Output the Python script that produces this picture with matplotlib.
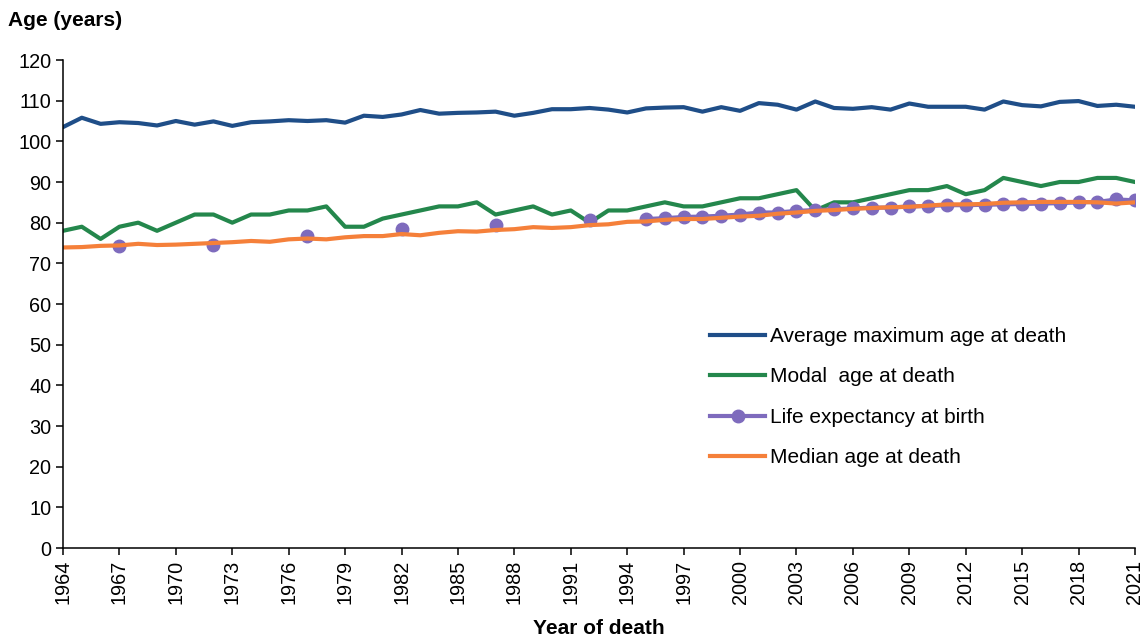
import numpy as np
import matplotlib
matplotlib.use("Agg")
import matplotlib.pyplot as plt

plt.rcParams['font.family'] = ['Liberation Sans', 'DejaVu Sans']

years = list(range(1964, 2022))

avg_max_age = [103.5, 105.8, 104.3, 104.7, 104.5, 103.9, 105.0, 104.1, 104.9, 103.8,
               104.7, 104.9, 105.2, 105.0, 105.2, 104.6, 106.3, 106.0, 106.6, 107.7,
               106.8, 107.0, 107.1, 107.3, 106.3, 107.0, 107.9, 107.9, 108.2, 107.8,
               107.1, 108.1, 108.3, 108.4, 107.3, 108.4, 107.5, 109.4, 109.0, 107.8,
               109.8, 108.2, 108.0, 108.4, 107.8, 109.3, 108.5, 108.5, 108.5, 107.8,
               109.8, 108.9, 108.6, 109.7, 109.9, 108.7, 109.0, 108.5]

modal_age = [78, 79, 76, 79, 80, 78, 80, 82, 82, 80,
             82, 82, 83, 83, 84, 79, 79, 81, 82, 83,
             84, 84, 85, 82, 83, 84, 82, 83, 80, 83,
             83, 84, 85, 84, 84, 85, 86, 86, 87, 88,
             83, 85, 85, 86, 87, 88, 88, 89, 87, 88,
             91, 90, 89, 90, 90, 91, 91, 90]

life_exp_years = [1967, 1972, 1977, 1982, 1987, 1992] + list(range(1995, 2022))
life_exp_values = [74.3, 74.5, 76.6, 78.4, 79.4, 80.7,
                   80.9, 81.1, 81.4, 81.5, 81.7, 82.0, 82.5, 82.5, 82.9, 83.1,
                   83.3, 83.5, 83.7, 83.7, 84.0, 84.1, 84.3, 84.3, 84.4, 84.5,
                   84.6, 84.7, 84.8, 85.0, 85.1, 85.7, 85.5]

median_age = [73.9, 74.0, 74.3, 74.4, 74.8, 74.5, 74.6, 74.8, 75.0, 75.2,
              75.5, 75.3, 75.9, 76.1, 75.9, 76.4, 76.7, 76.7, 77.2, 76.9,
              77.5, 77.9, 77.8, 78.2, 78.4, 78.9, 78.7, 78.9, 79.4, 79.6,
              80.2, 80.3, 80.7, 80.9, 80.9, 81.2, 81.5, 81.7, 82.2, 82.5,
              82.9, 83.1, 83.4, 83.6, 83.8, 83.9, 84.2, 84.5, 84.5, 84.6,
              84.9, 85.0, 85.1, 85.1, 85.1, 85.0, 84.7, 85.0]

labels = ["Average maximum age at death", "Modal  age at death",
          "Life expectancy at birth", "Median age at death"]

# full yearly series for life expectancy with gaps
le_map = dict(zip(life_exp_years, life_exp_values))
life_exp_full = [le_map.get(y, np.nan) for y in years]

fig = plt.figure(figsize=(11.4, 6.41), dpi=100)
ax = fig.add_axes([63 / 1140, 1 - 548 / 641, (1135 - 63) / 1140, (548 - 60) / 641])

ax.plot(years, avg_max_age, color='#1f4e88', lw=3.0, label=labels[0])
ax.plot(years, modal_age, color='#24874c', lw=3.0, label=labels[1])
ax.plot(years, life_exp_full, color='#7e6bbd', lw=3.0, marker='o', markersize=9,
        label=labels[2])
ax.plot(years, median_age, color='#f5803a', lw=3.0, label=labels[3])

ax.set_xlim(1964, 2021)
ax.set_ylim(0, 120)
ax.set_xticks(list(range(1964, 2022, 3)))
ax.set_yticks(list(range(0, 121, 10)))
ax.tick_params(axis='x', labelrotation=90, labelsize=14.3, length=5, width=1.1, direction='out')
ax.tick_params(axis='y', labelsize=14.3, length=5, width=1.1, direction='out')
for s in ['top', 'right']:
    ax.spines[s].set_visible(False)
for s in ['left', 'bottom']:
    ax.spines[s].set_linewidth(1.1)

leg = ax.legend(loc='upper left', bbox_to_anchor=(710 / 1140, 1 - 327 / 641),
                bbox_transform=fig.transFigure, frameon=False, fontsize=15,
                handlelength=2.65, handletextpad=0.25, labelspacing=1.03,
                borderpad=0, borderaxespad=0)

fig.text(8 / 1140, 1 - 20 / 641, "Age (years)", fontsize=15, fontweight='bold',
         ha='left', va='center')
fig.text(599 / 1140, 1 - 629 / 641, "Year of death", fontsize=15, fontweight='bold',
         ha='center', va='center')

fig.savefig("out.png", dpi=100)
